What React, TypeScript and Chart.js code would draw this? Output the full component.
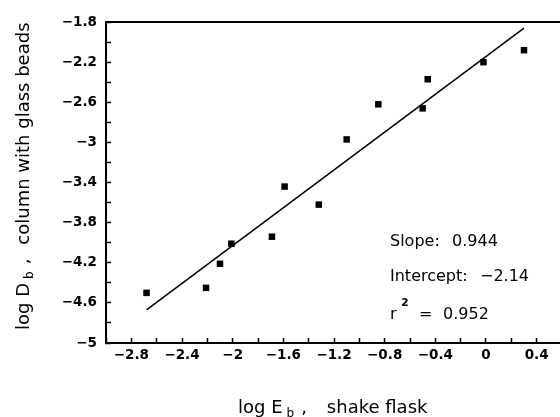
import React, { useEffect, useRef } from 'react';
import { Chart, registerables } from 'chart.js';

Chart.register(...registerables);

// ---- data ----
const logEb = [-2.68, -2.21, -2.1, -2.01, -1.69, -1.59, -1.32, -1.1, -0.85, -0.5, -0.46, -0.02, 0.3];
const logDb = [-4.5, -4.45, -4.21, -4.01, -3.94, -3.44, -3.62, -2.97, -2.62, -2.66, -2.37, -2.2, -2.08];
const fitX = [-2.68, 0.3];
const fitY = [-4.67, -1.86];

const xMin = -3.0;
const xMax = 0.6;
const yMin = -5.0;
const yMax = -1.8;
const tickStep = 0.2;
const labelStep = 0.4;
const xLabelBase = -2.8;
const yLabelBase = -5.0;

const statNames = ['Slope:', 'Intercept:'];
const statValues = ['0.944', '\u22122.14'];
const r2Value = '0.952';

const FONT = "'DejaVu Sans'";

function fmt(v: number): string {
  const r = Math.round(v * 10) / 10;
  if (Math.abs(r) < 1e-9) return '0';
  return String(r).replace('-', '\u2212');
}

function labelFor(v: number, base: number): string {
  const k = (v - base) / labelStep;
  if (Math.abs(k - Math.round(k)) < 1e-6) return fmt(v);
  return '';
}

const decorPlugin = {
  id: 'decor',
  afterDraw(chart: any) {
    const { ctx, chartArea } = chart;
    const { left, right, top, bottom } = chartArea;
    ctx.save();
    // frame (top and right edges)
    ctx.strokeStyle = '#000';
    ctx.lineWidth = 2;
    ctx.beginPath();
    ctx.moveTo(left - 1, top);
    ctx.lineTo(right, top);
    ctx.lineTo(right, bottom);
    ctx.stroke();

    ctx.fillStyle = '#000';
    ctx.textAlign = 'left';
    ctx.textBaseline = 'alphabetic';

    // statistics box
    ctx.font = `16px ${FONT}`;
    ctx.fillText(statNames[0], 390, 246);
    ctx.fillText(statValues[0], 452, 246);
    ctx.fillText(statNames[1], 390, 281);
    ctx.fillText(statValues[1], 480, 281);
    ctx.fillText('r', 390, 319);
    ctx.fillText('=', 419, 319);
    ctx.fillText(r2Value, 443, 319);
    ctx.font = `bold 11px ${FONT}`;
    ctx.fillText('2', 401, 306);

    // x-axis title: log E_b , shake flask
    const big = `18px ${FONT}`;
    const small = `12px ${FONT}`;
    let x = 238;
    const yb = 413;
    ctx.font = big;
    ctx.fillText('log E', x, yb);
    x += ctx.measureText('log E').width + 4;
    ctx.font = small;
    ctx.fillText('b', x, yb + 4);
    x += ctx.measureText('b').width + 7;
    ctx.font = big;
    ctx.fillText(',', x, yb);
    x += ctx.measureText(',').width + 20;
    ctx.fillText('shake flask', x, yb);

    // y-axis title (rotated): log D_b , column with glass beads
    ctx.translate(29, 330);
    ctx.rotate(-Math.PI / 2);
    let p = 0;
    ctx.font = big;
    ctx.fillText('log D', p, 0);
    p += ctx.measureText('log D').width + 4;
    ctx.font = small;
    ctx.fillText('b', p, 4);
    p += ctx.measureText('b').width + 7;
    ctx.font = big;
    ctx.fillText(',', p, 0);
    p += ctx.measureText(',').width + 14;
    ctx.fillText('column with glass beads', p, 0);
    ctx.restore();
  },
};

export default function App() {
  const canvasRef = useRef<HTMLCanvasElement | null>(null);

  useEffect(() => {
    if (!canvasRef.current) return;
    Chart.defaults.font.family = FONT;
    const chart = new Chart(canvasRef.current, {
      type: 'scatter',
      data: {
        datasets: [
          {
            type: 'line',
            data: fitX.map((v, i) => ({ x: v, y: fitY[i] })),
            borderColor: '#000',
            borderWidth: 1.5,
            pointRadius: 0,
            fill: false,
            tension: 0,
          } as any,
          {
            type: 'scatter',
            data: logEb.map((v, i) => ({ x: v, y: logDb[i] })),
            pointStyle: 'rect',
            pointRadius: 4.6,
            backgroundColor: '#000',
            borderWidth: 0,
          },
        ],
      },
      options: {
        animation: false,
        responsive: true,
        maintainAspectRatio: false,
        layout: { padding: { left: 0, top: 17, right: 38, bottom: 0 } },
        plugins: { legend: { display: false }, tooltip: { enabled: false } },
        scales: {
          x: {
            type: 'linear',
            min: xMin,
            max: xMax,
            border: { display: true, color: '#000', width: 2 },
            grid: {
              display: true,
              drawOnChartArea: false,
              drawTicks: true,
              tickLength: -5,
              tickColor: '#000',
              tickWidth: 1.5,
            },
            ticks: {
              stepSize: tickStep,
              autoSkip: false,
              maxRotation: 0,
              padding: 9,
              color: '#000',
              font: { size: 13.5, weight: 'bold', family: FONT },
              callback: (v: any) => labelFor(Number(v), xLabelBase),
            },
            afterFit: (s: any) => {
              s.height = 74;
            },
          },
          y: {
            type: 'linear',
            min: yMin,
            max: yMax,
            border: { display: true, color: '#000', width: 2 },
            grid: {
              display: true,
              drawOnChartArea: false,
              drawTicks: true,
              tickLength: -5,
              tickColor: '#000',
              tickWidth: 1.5,
            },
            ticks: {
              stepSize: tickStep,
              autoSkip: false,
              padding: 14,
              color: '#000',
              font: { size: 13.5, weight: 'bold', family: FONT },
              callback: (v: any) => labelFor(Number(v), yLabelBase),
            },
            afterFit: (s: any) => {
              s.width = 106;
            },
          },
        },
      },
      plugins: [decorPlugin],
    });
    return () => chart.destroy();
  }, []);

  return (
    <div
      style={{
        position: 'absolute',
        left: 0,
        top: 0,
        width: 560,
        height: 417,
        overflow: 'hidden',
        background: '#fff',
      }}
    >
      <div style={{ position: 'relative', width: 600, height: 417 }}>
        <canvas ref={canvasRef} />
      </div>
    </div>
  );
}
